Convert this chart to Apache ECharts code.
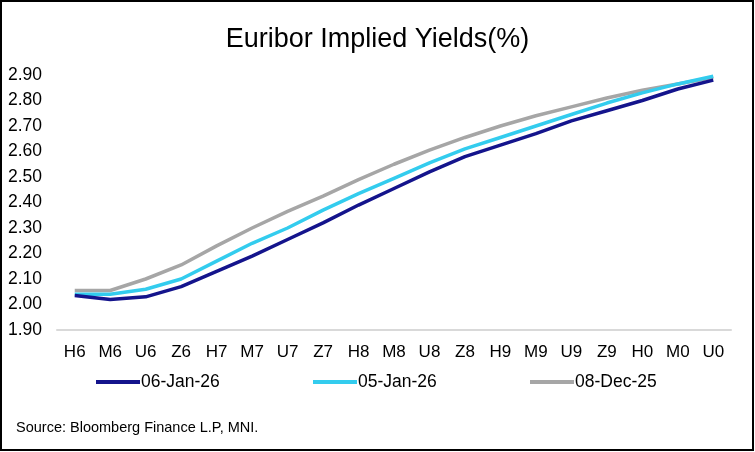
<!DOCTYPE html>
<html>
<head>
<meta charset="utf-8">
<script src="https://cdn.jsdelivr.net/npm/echarts@6/dist/echarts.min.js"></script>
<style>
html,body{margin:0;padding:0;background:#fff;}
#c{width:755px;height:452px;}
</style>
</head>
<body>
<div id="c"></div>
<script>
const categories = ['H6','M6','U6','Z6','H7','M7','U7','Z7','H8','M8','U8','Z8','H9','M9','U9','Z9','H0','M0','U0'];
const seriesNames = ['06-Jan-26','05-Jan-26','08-Dec-25'];
const jan06 = [2.035,2.02,2.03,2.07,2.13,2.19,2.255,2.32,2.39,2.455,2.52,2.58,2.625,2.67,2.72,2.76,2.80,2.845,2.88];
const jan05 = [2.04,2.04,2.06,2.10,2.17,2.24,2.30,2.37,2.435,2.495,2.555,2.61,2.655,2.70,2.745,2.79,2.83,2.865,2.895];
const dec08 = [2.055,2.055,2.10,2.155,2.23,2.30,2.365,2.425,2.49,2.55,2.605,2.655,2.70,2.74,2.775,2.81,2.84,2.865,2.89];
const yTicks = {min:1.9, max:2.9, interval:0.1};

const chart = echarts.init(document.getElementById('c'), null, {renderer:'canvas'});
const font = 'Liberation Sans, Arial, sans-serif';
const legendLefts = [96, 313, 530];
chart.setOption({
  animation:false,
  backgroundColor:'#fff',
  title:{text:'Euribor Implied Yields(%)', left:'center', top:21,
    textStyle:{fontFamily:font, fontSize:27, fontWeight:'normal', color:'#000'}},
  grid:{left:57, right:24, top:75, bottom:122},
  legend:seriesNames.map((n,i)=>({left:legendLefts[i], top:373, padding:0, itemWidth:44, itemHeight:4, icon:'rect',
    textStyle:{fontFamily:font, fontSize:17.5, color:'#000', padding:[0,0,0,-4]},
    data:[n]})),
  xAxis:{type:'category', data:categories, boundaryGap:true,
    axisLine:{lineStyle:{color:'#D9D9D9', width:2}},
    axisTick:{show:false},
    axisLabel:{fontFamily:font, fontSize:17, color:'#000', margin:14, interval:0}},
  yAxis:{type:'value', min:yTicks.min, max:yTicks.max, interval:yTicks.interval,
    axisLine:{show:false}, axisTick:{show:false}, splitLine:{show:false},
    axisLabel:{fontFamily:font, fontSize:17.5, color:'#000', margin:15,
      formatter:v=>v.toFixed(2)}},
  graphic:[
    {type:'rect', shape:{x:1,y:1,width:752,height:449}, style:{fill:null, stroke:'#000', lineWidth:2}, silent:true},
    {type:'text', left:16, top:420, style:{text:'Source: Bloomberg Finance L.P, MNI.', font:'14.5px Liberation Sans, Arial, sans-serif', fill:'#000'}}
  ],
  series:[
    {name:seriesNames[0], type:'line', data:jan06, symbol:'none', lineStyle:{width:3.5, color:'#14148C'}, itemStyle:{color:'#14148C'}, z:3},
    {name:seriesNames[1], type:'line', data:jan05, symbol:'none', lineStyle:{width:3.5, color:'#33CCEE'}, itemStyle:{color:'#33CCEE'}, z:2},
    {name:seriesNames[2], type:'line', data:dec08, symbol:'none', lineStyle:{width:3.5, color:'#A6A6A6'}, itemStyle:{color:'#A6A6A6'}, z:1}
  ]
});
</script>
</body>
</html>
